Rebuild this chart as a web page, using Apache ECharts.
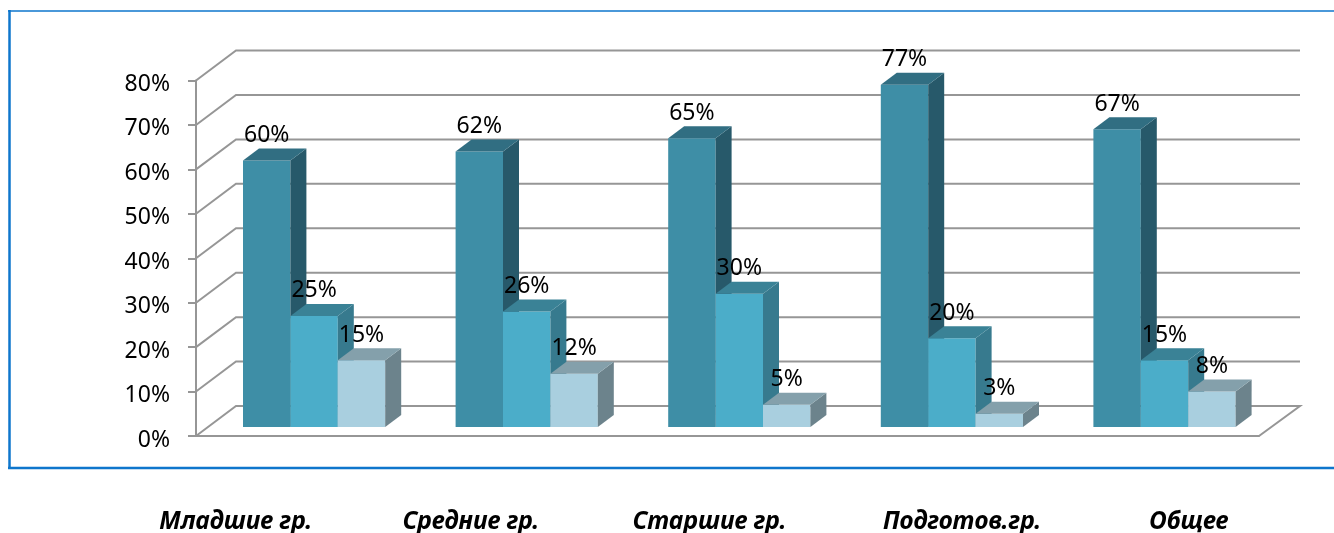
<!DOCTYPE html>
<html><head><meta charset="utf-8">
<style>html,body{margin:0;padding:0;background:#fff}#c{width:1334px;height:533px}</style>
<script src="https://cdn.jsdelivr.net/npm/echarts@6/dist/echarts.min.js"></script>
</head><body><div id="c"></div>
<script>
const categories = ['Младшие гр.', 'Средние гр.', 'Старшие гр.', 'Подготов.гр.', 'Общее'];
const seriesA = [60, 62, 65, 77, 67];
const seriesB = [25, 26, 30, 20, 15];
const seriesC = [15, 12, 5, 3, 8];
const yTicks = [0, 10, 20, 30, 40, 50, 60, 70, 80];

const labelShift = [-66.5, -44, -18, 22, 36];
const DX = 16, DY = 12, WALL_X = 40, WALL_Y = 30, LIFT = 9, BAR_W = 47.4, BAR_OFF = -59.3;
const FONT = '"Noto Sans", sans-serif';
const GREY = '#969696';

function barSeries(values, idx, front, side, top) {
  return {
    type: 'custom', coordinateSystem: 'cartesian2d', z: 3 + idx, silent: true, clip: false,
    data: values.map((v, i) => [i, v]),
    encode: { x: 0, y: 1 },
    renderItem(params, api) {
      const cat = api.value(0), v = api.value(1);
      const p = api.coord([cat, v]), base = api.coord([cat, 0]);
      const x0 = p[0] + BAR_OFF + idx * BAR_W, x1 = x0 + BAR_W;
      const yt = p[1] - LIFT, yb = base[1] - LIFT;
      return { type: 'group', children: [
        { type: 'rect', shape: { x: x0, y: yt, width: BAR_W, height: yb - yt }, style: { fill: front } },
        { type: 'polygon', shape: { points: [[x1, yt], [x1 + DX, yt - DY], [x1 + DX, yb - DY], [x1, yb]] }, style: { fill: side } },
        { type: 'polygon', shape: { points: [[x0, yt], [x0 + DX, yt - DY], [x1 + DX, yt - DY], [x1, yt]] }, style: { fill: top } },
        { type: 'text', z2: 100, style: { x: (x0 + x1) / 2, y: yt - 25, text: v + '%', fill: '#000',
            font: '23px ' + FONT, align: 'center', verticalAlign: 'middle' } }
      ] };
    }
  };
}

const chart = echarts.init(document.getElementById('c'), null, { renderer: 'canvas' });
chart.setOption({
  animation: false,
  backgroundColor: '#fff',
  grid: { left: 196, right: 75, top: 80.5, bottom: 97, outerBoundsMode: 'none' },
  xAxis: {
    type: 'category',
    data: categories.map((c, i) => ({
      value: c,
      textStyle: labelShift[i] < 0 ? { padding: [0, -2 * labelShift[i], 0, 0] } : { padding: [0, 0, 0, 2 * labelShift[i]] }
    })),
    axisTick: { show: false },
    axisLine: { lineStyle: { color: GREY, width: 2 } },
    axisLabel: { margin: 74, interval: 0, fontFamily: FONT, fontSize: 24.5, fontWeight: 'bold', fontStyle: 'italic', color: '#000' }
  },
  yAxis: {
    type: 'value', min: 0, max: 80, interval: 10,
    axisLine: { show: true, lineStyle: { color: GREY, width: 2 } },
    axisTick: { show: true, length: 8, lineStyle: { color: GREY, width: 2 } },
    splitLine: { show: false },
    axisLabel: { margin: 26, fontFamily: FONT, fontSize: 23, color: '#000', formatter: '{value}%', verticalAlign: 'top', lineHeight: 8 }
  },
  graphic: [
    { type: 'line', shape: { x1: 8, y1: 11, x2: 1334, y2: 11 }, style: { stroke: '#0E76CC', lineWidth: 1.5 } },
    { type: 'line', shape: { x1: 9.5, y1: 10, x2: 9.5, y2: 469 }, style: { stroke: '#0E76CC', lineWidth: 2.5 } },
    { type: 'line', shape: { x1: 8, y1: 468, x2: 1334, y2: 468 }, style: { stroke: '#0E76CC', lineWidth: 2.5 } }
  ],
  series: [
    {
      type: 'custom', coordinateSystem: 'cartesian2d', z: 1, silent: true, clip: false,
      data: yTicks.map(t => [0, t]),
      encode: { x: 0, y: 1 },
      renderItem(params, api) {
        const t = api.value(1), p = api.coord([0, t]), cs = params.coordSys;
        const left = cs.x, right = cs.x + cs.width, y = p[1];
        const style = { stroke: GREY, lineWidth: 2, fill: null };
        const pts = [[left, y], [left + WALL_X, y - WALL_Y], [right + WALL_X + 1, y - WALL_Y]];
        if (t === 0) pts.push([right, y]);
        return { type: 'polyline', shape: { points: pts }, style };
      }
    },
    barSeries(seriesA, 0, '#3E8EA6', '#27596A', '#316E82'),
    barSeries(seriesB, 1, '#4BADC9', '#377A8E', '#3A8296'),
    barSeries(seriesC, 2, '#A9CFDF', '#6C838C', '#84A0AB')
  ]
});
</script></body></html>
